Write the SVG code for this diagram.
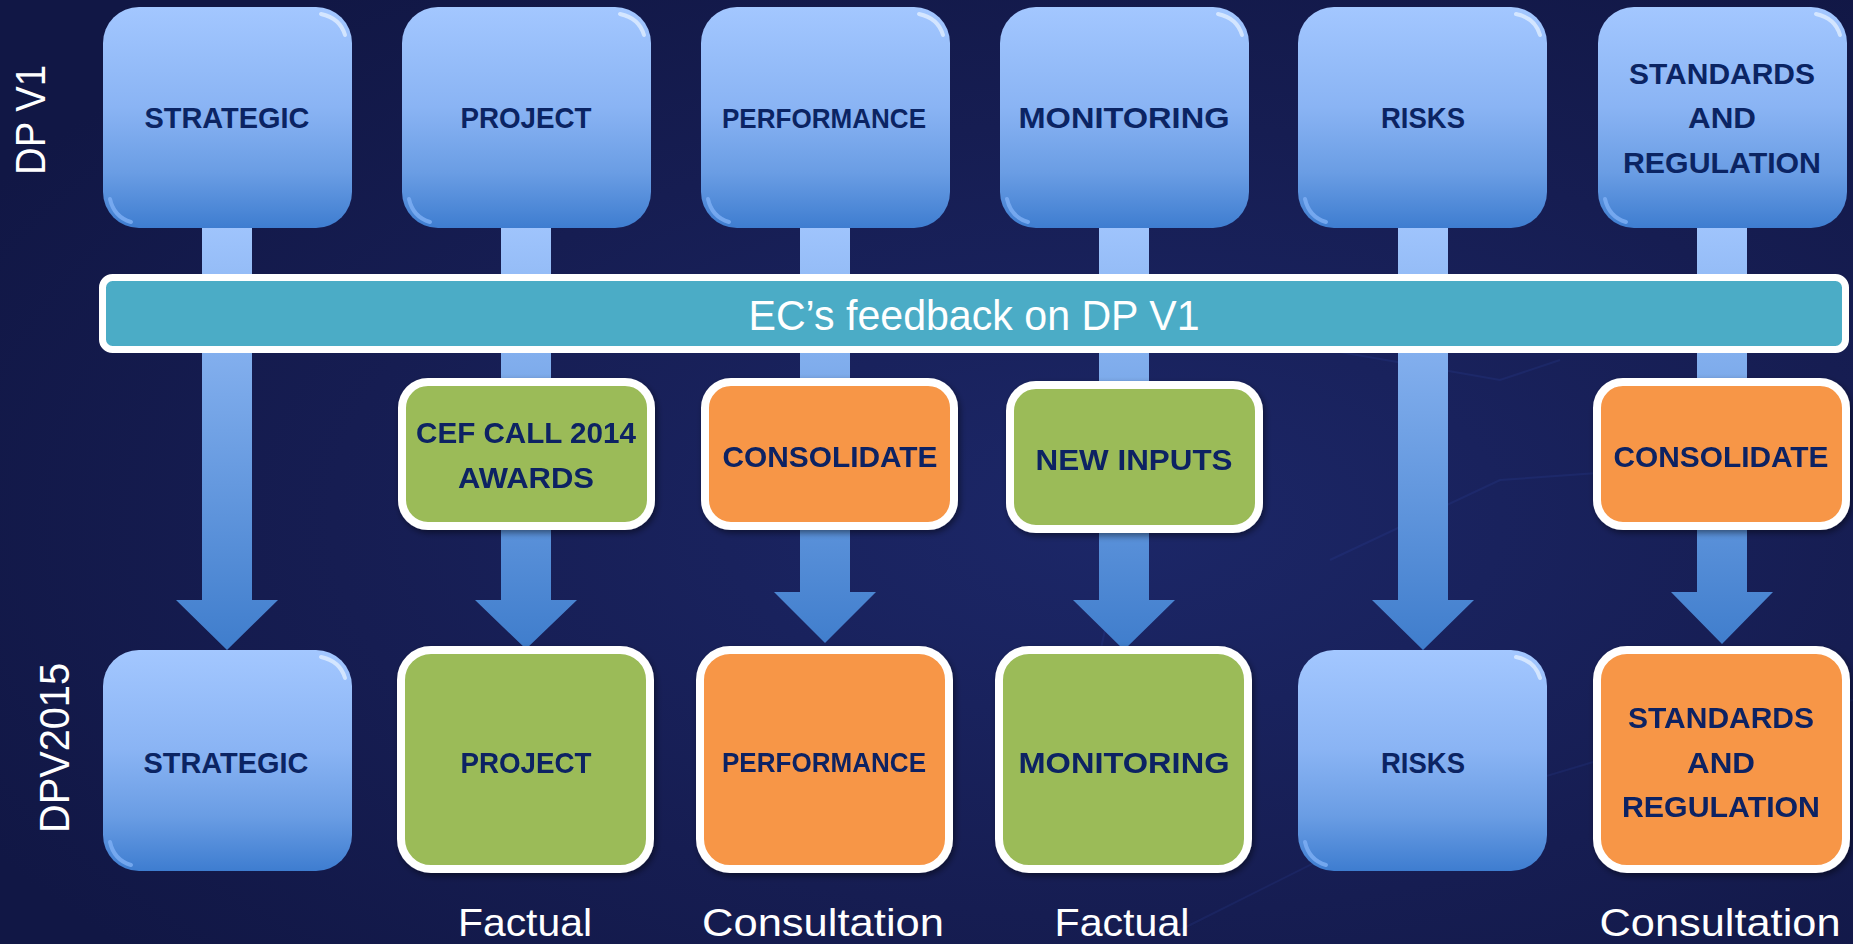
<svg xmlns="http://www.w3.org/2000/svg" width="1853" height="944" viewBox="0 0 1853 944">
<defs>
<radialGradient id="bgGlow" cx="0.6" cy="0.55" r="0.7">
<stop offset="0" stop-color="#1c2768"/>
<stop offset="0.6" stop-color="#161d52"/>
<stop offset="1" stop-color="#111745"/>
</radialGradient>
<linearGradient id="gBlue" x1="0" y1="0" x2="0" y2="1">
<stop offset="0" stop-color="#a3c7ff"/>
<stop offset="0.45" stop-color="#8ab4f4"/>
<stop offset="0.75" stop-color="#6a9de4"/>
<stop offset="1" stop-color="#3e7dd0"/>
</linearGradient>
<linearGradient id="gArrow" gradientUnits="userSpaceOnUse" x1="0" y1="228" x2="0" y2="650">
<stop offset="0" stop-color="#9fc4fc"/>
<stop offset="1" stop-color="#3f7dcc"/>
</linearGradient>
<filter id="shadow" x="-10%" y="-10%" width="125%" height="125%">
<feDropShadow dx="2" dy="3" stdDeviation="3" flood-color="#000" flood-opacity="0.45"/>
</filter>
<g id="blueShape">
<rect width="249" height="221" rx="36" fill="url(#gBlue)"/>
<path d="M218,7 Q237,11 242,28" fill="none" stroke="#eaf3ff" stroke-width="4" stroke-linecap="round" opacity="0.7"/>
<path d="M7,192 Q11,210 28,215" fill="none" stroke="#7fb0f5" stroke-width="4" stroke-linecap="round" opacity="0.8"/>
</g>
<rect id="midShape" width="249" height="144" rx="26"/>
<rect id="botShape" width="249" height="219" rx="30"/>
</defs>
<style>
.lbl{font-family:"Liberation Sans",Arial,sans-serif;font-weight:bold;font-size:30px;fill:#0b2463;text-anchor:middle}
.small{font-size:28px}
.side{font-family:"Liberation Sans",Arial,sans-serif;font-size:43px;fill:#ffffff;text-anchor:middle}
.foot{font-family:"Liberation Sans",Arial,sans-serif;font-size:39px;fill:#ffffff;text-anchor:middle}
.green{fill:#9bbb59;stroke:#ffffff;stroke-width:8}
.orange{fill:#f79646;stroke:#ffffff;stroke-width:8}
.arrow{fill:url(#gArrow)}
</style>

<rect width="1853" height="944" fill="url(#bgGlow)"/>
<g opacity="0.15" fill="none" stroke="#3550b8" stroke-width="2">
<path d="M1000,330 L1300,345 L1500,380 L1560,360"/>
<path d="M1100,420 L1120,560 L1090,700"/>
<path d="M1330,560 L1500,480 L1640,470"/>
<path d="M1180,930 L1400,820 L1600,760 L1853,700"/>
</g>

<text class="side" transform="translate(45,120) rotate(-90)" textLength="110" lengthAdjust="spacingAndGlyphs">DP V1</text>
<text class="side" transform="translate(69,748) rotate(-90)" textLength="170" lengthAdjust="spacingAndGlyphs">DPV2015</text>

<g id="connectors">
<path class="arrow" d="M202,228 H252 V600 H278 L227,650 L176,600 H202 Z"/>
<path class="arrow" d="M501,228 H551 V600 H577 L526,649 L475,600 H501 Z"/>
<path class="arrow" d="M800,228 H850 V592 H876 L825,643 L774,592 H800 Z"/>
<path class="arrow" d="M1099,228 H1149 V600 H1175 L1124,650 L1073,600 H1099 Z"/>
<path class="arrow" d="M1398,228 H1448 V600 H1474 L1423,650 L1372,600 H1398 Z"/>
<path class="arrow" d="M1697,228 H1747 V592 H1773 L1722,644 L1671,592 H1697 Z"/>
</g>

<g id="top-strategic" transform="translate(103,7)">
<use href="#blueShape"/>
<text class="lbl" x="124" y="121" textLength="165" lengthAdjust="spacingAndGlyphs">STRATEGIC</text>
</g>
<g id="top-project" transform="translate(402,7)">
<use href="#blueShape"/>
<text class="lbl" x="124" y="121" textLength="131" lengthAdjust="spacingAndGlyphs">PROJECT</text>
</g>
<g id="top-performance" transform="translate(701,7)">
<use href="#blueShape"/>
<text class="lbl small" x="123" y="121" textLength="204" lengthAdjust="spacingAndGlyphs">PERFORMANCE</text>
</g>
<g id="top-monitoring" transform="translate(1000,7)">
<use href="#blueShape"/>
<text class="lbl" x="124" y="121" textLength="211" lengthAdjust="spacingAndGlyphs">MONITORING</text>
</g>
<g id="top-risks" transform="translate(1298,7)">
<use href="#blueShape"/>
<text class="lbl" x="125" y="121" textLength="84" lengthAdjust="spacingAndGlyphs">RISKS</text>
</g>
<g id="top-standards" transform="translate(1598,7)">
<use href="#blueShape"/>
<text class="lbl" x="124" y="77" textLength="186" lengthAdjust="spacingAndGlyphs">STANDARDS</text>
<text class="lbl" x="124" y="121" textLength="68" lengthAdjust="spacingAndGlyphs">AND</text>
<text class="lbl" x="124" y="166" textLength="198" lengthAdjust="spacingAndGlyphs">REGULATION</text>
</g>

<g id="feedback">
<rect x="102.5" y="277.5" width="1743" height="72" rx="10" fill="#4bacc6" stroke="#ffffff" stroke-width="7"/>
<text x="974" y="330" font-family="'Liberation Sans',Arial,sans-serif" font-size="43" fill="#ffffff" text-anchor="middle" textLength="451" lengthAdjust="spacingAndGlyphs">EC’s feedback on DP V1</text>
</g>

<g id="mid-cef" transform="translate(402,382)" filter="url(#shadow)">
<use href="#midShape" class="green"/>
<text class="lbl" x="124" y="61" textLength="220" lengthAdjust="spacingAndGlyphs">CEF CALL 2014</text>
<text class="lbl" x="124" y="106" textLength="136" lengthAdjust="spacingAndGlyphs">AWARDS</text>
</g>
<g id="mid-consolidate-1" transform="translate(705,382)" filter="url(#shadow)">
<use href="#midShape" class="orange"/>
<text class="lbl" x="125" y="85" textLength="215" lengthAdjust="spacingAndGlyphs">CONSOLIDATE</text>
</g>
<g id="mid-newinputs" transform="translate(1010,385)" filter="url(#shadow)">
<use href="#midShape" class="green"/>
<text class="lbl" x="124" y="85" textLength="197" lengthAdjust="spacingAndGlyphs">NEW INPUTS</text>
</g>
<g id="mid-consolidate-2" transform="translate(1597,382)" filter="url(#shadow)">
<use href="#midShape" class="orange"/>
<text class="lbl" x="124" y="85" textLength="215" lengthAdjust="spacingAndGlyphs">CONSOLIDATE</text>
</g>

<g id="bot-strategic" transform="translate(103,650)">
<use href="#blueShape"/>
<text class="lbl" x="123" y="123" textLength="165" lengthAdjust="spacingAndGlyphs">STRATEGIC</text>
</g>
<g id="bot-project" transform="translate(401,650)" filter="url(#shadow)">
<use href="#botShape" class="green"/>
<text class="lbl" x="125" y="123" textLength="131" lengthAdjust="spacingAndGlyphs">PROJECT</text>
</g>
<g id="bot-performance" transform="translate(700,650)" filter="url(#shadow)">
<use href="#botShape" class="orange"/>
<text class="lbl small" x="124" y="122" textLength="204" lengthAdjust="spacingAndGlyphs">PERFORMANCE</text>
</g>
<g id="bot-monitoring" transform="translate(999,650)" filter="url(#shadow)">
<use href="#botShape" class="green"/>
<text class="lbl" x="125" y="123" textLength="211" lengthAdjust="spacingAndGlyphs">MONITORING</text>
</g>
<g id="bot-risks" transform="translate(1298,650)">
<use href="#blueShape"/>
<text class="lbl" x="125" y="123" textLength="84" lengthAdjust="spacingAndGlyphs">RISKS</text>
</g>
<g id="bot-standards" transform="translate(1597,650)" filter="url(#shadow)">
<use href="#botShape" class="orange"/>
<text class="lbl" x="124" y="78" textLength="186" lengthAdjust="spacingAndGlyphs">STANDARDS</text>
<text class="lbl" x="124" y="123" textLength="68" lengthAdjust="spacingAndGlyphs">AND</text>
<text class="lbl" x="124" y="167" textLength="198" lengthAdjust="spacingAndGlyphs">REGULATION</text>
</g>

<g id="footer-labels">
<text class="foot" x="525" y="936" textLength="134" lengthAdjust="spacingAndGlyphs">Factual</text>
<text class="foot" x="823" y="936" textLength="242" lengthAdjust="spacingAndGlyphs">Consultation</text>
<text class="foot" x="1122" y="936" textLength="135" lengthAdjust="spacingAndGlyphs">Factual</text>
<text class="foot" x="1720" y="936" textLength="241" lengthAdjust="spacingAndGlyphs">Consultation</text>
</g>
</svg>
